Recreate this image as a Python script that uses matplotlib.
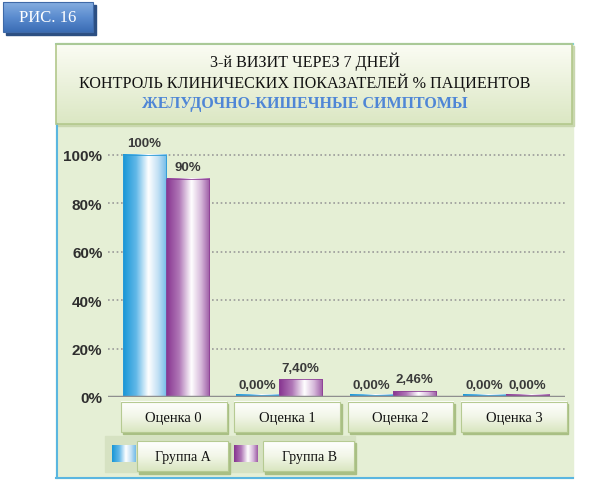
import matplotlib
matplotlib.use('Agg')
import matplotlib.pyplot as plt
import numpy as np
from matplotlib.colors import LinearSegmentedColormap
from matplotlib.patches import Rectangle

# данные
categories = ['Оценка 0', 'Оценка 1', 'Оценка 2', 'Оценка 3']
series = ['Группа А', 'Группа В']
group_a = [100.0, 0.0, 0.0, 0.0]
group_b = [90.0, 7.40, 2.46, 0.0]
yticks = [0, 20, 40, 60, 80, 100]
badge = 'РИС. 16'
title_lines = ['3-й ВИЗИТ ЧЕРЕЗ 7 ДНЕЙ',
               'КОНТРОЛЬ КЛИНИЧЕСКИХ ПОКАЗАТЕЛЕЙ % ПАЦИЕНТОВ']
subtitle = 'ЖЕЛУДОЧНО-КИШЕЧНЫЕ СИМПТОМЫ'

serif = ['Liberation Serif', 'DejaVu Serif']
sans = ['Liberation Sans', 'DejaVu Sans']

blue_cm = LinearSegmentedColormap.from_list('b', [(0, '#1796d6'), (0.3, '#62b8e8'), (0.58, '#ffffff'),
                                                  (0.8, '#c2e0f4'), (1, '#72bbe8')])
purple_cm = LinearSegmentedColormap.from_list('p', [(0, '#86338f'), (0.3, '#b077b7'), (0.58, '#ffffff'),
                                                    (0.8, '#d6b8da'), (1, '#9c5aa4')])
title_cm = LinearSegmentedColormap.from_list('t', ['#fbfcf4', '#dbe7c3'])
box_cm = LinearSegmentedColormap.from_list('c', ['#ffffff', '#f2f6e8', '#d9e6c0'])
badge_cm = LinearSegmentedColormap.from_list('s', ['#86aee0', '#5b8ccf', '#3a6cb4'])


def grad(axis, x0, x1, y0, y1, cmap, horizontal=True, z=2, clip=True):
    g = np.linspace(0, 1, 256)
    img = g[np.newaxis, :] if horizontal else g[:, np.newaxis]
    im = axis.imshow(img, cmap=cmap, extent=[x0, x1, y1, y0] if not horizontal else [x0, x1, y0, y1],
                     aspect='auto', zorder=z, interpolation='bilinear')
    im.set_clip_on(clip)
    return im


fig = plt.figure(figsize=(6, 4.89), dpi=100)
fig.patch.set_facecolor('white')

# фон в пикселях
bg = fig.add_axes([0, 0, 1, 1], zorder=0)
bg.set_xlim(0, 600)
bg.set_ylim(489, 0)
bg.axis('off')

# плашка "РИС. 16"
bg.add_patch(Rectangle((6, 6), 90, 30, color='#2c4f82', zorder=1))
grad(bg, 3, 93, 3, 33, badge_cm, horizontal=False, z=2)
bg.add_patch(Rectangle((3, 3), 90, 30, fill=False, ec='#3f6aa8', lw=0.8, zorder=3))
bg.text(48, 18.5, badge, ha='center', va='center', color='white', fontsize=12, family=serif, zorder=4)

# панель
bg.add_patch(Rectangle((56, 44), 517, 435, color='#e5efd5', zorder=1))
bg.plot([56, 573], [44.5, 44.5], color='#7fd2d2', lw=1.5, zorder=3)
bg.plot([57, 57], [125, 479], color='#5ab6e0', lw=1.5, zorder=3)
bg.plot([56, 573], [479, 479], color='#5ab6e0', lw=1.5, zorder=3)

# блок заголовка
bg.add_patch(Rectangle((58, 47), 516, 80, color='#c9d7ae', zorder=1.5))
grad(bg, 56, 572, 45, 125, title_cm, horizontal=False, z=2)
bg.add_patch(Rectangle((56, 45), 516, 80, fill=False, ec='#b3c88c', lw=1.2, zorder=3))
bg.text(305, 62, title_lines[0], ha='center', va='center', fontsize=11.6, family=serif, color='#111111', zorder=4)
bg.text(305, 83, title_lines[1], ha='center', va='center', fontsize=11.6, family=serif, color='#111111', zorder=4)
bg.text(305, 104, subtitle, ha='center', va='center', fontsize=11.5, family=serif, color='#4f86d6',
        fontweight='bold', zorder=4)

# легенда
bg.add_patch(Rectangle((105, 437), 250, 36, color='#d6e2c2', zorder=1.5))
for i, (name, cm) in enumerate(zip(series, [blue_cm, purple_cm])):
    sx = 112 + i * 122
    grad(bg, sx, sx + 24, 446, 463, cm, horizontal=True, z=2)
    bx = sx + 25 + i * 4
    bg.add_patch(Rectangle((bx + 1.5, 443.5), 91, 31, color='#a9bf84', zorder=2))
    grad(bg, bx, bx + 91, 442, 472, box_cm, horizontal=False, z=3)
    bg.add_patch(Rectangle((bx, 442), 91, 30, fill=False, ec='#b6ca92', lw=0.8, zorder=4))
    bg.text(bx + 46, 457, name, ha='center', va='center', fontsize=10, family=serif, color='#111111', zorder=5)

# диаграмма
ax = fig.add_axes([108 / 600, (489 - 398) / 489, 457 / 600, 252 / 489], zorder=1)
ax.set_facecolor('none')
x = np.arange(len(categories))
w = 0.38
bars_a = ax.bar(x - w / 2, group_a, w, color='none', zorder=3)
bars_b = ax.bar(x + w / 2, group_b, w, color='none', zorder=3)

for bars, cm, edge in [(bars_a, blue_cm, '#2a9ad6'), (bars_b, purple_cm, '#8e4096')]:
    for b in bars:
        h = max(b.get_height(), 0.9)
        grad(ax, b.get_x(), b.get_x() + b.get_width(), 0, h, cm, horizontal=True, z=3)
        ax.add_patch(Rectangle((b.get_x(), 0), b.get_width(), h, fill=False, ec=edge, lw=0.6, zorder=4))


def fmt(v):
    if v > 0 and float(v).is_integer():
        return '{:.0f}%'.format(v)
    return '{:.2f}%'.format(v).replace('.', ',')


for bars in [bars_a, bars_b]:
    for b in bars:
        ax.annotate(fmt(b.get_height()), (b.get_x() + b.get_width() / 2, b.get_height()),
                    xytext=(0, 4), textcoords='offset points', ha='center', va='bottom',
                    fontsize=9.5, fontweight='bold', family=sans, color='#3a3a3a', zorder=6)

ax.set_xlim(-0.51, 3.52)
ax.set_ylim(0, 104)
ax.set_yticks(yticks)
ax.set_yticklabels(['{}%'.format(t) for t in yticks], fontsize=11, fontweight='bold', family=sans,
                   color='#2e2e2e')
ax.tick_params(axis='y', length=0, pad=4)
ax.set_xticks([])
ax.yaxis.grid(True, linestyle=(0, (1, 1.6)), color='#9a9a9a', lw=1.2, zorder=1)
ax.set_axisbelow(True)
for s in ax.spines.values():
    s.set_visible(False)
ax.axhline(0, color='#8f8f8f', lw=2.5, zorder=5)

# подписи категорий
for xi, cat in zip(x, categories):
    x0, x1 = xi - 0.465 + 0.07, xi + 0.465 + 0.07
    ax.add_patch(Rectangle((x0 + 0.015, -15.3), x1 - x0, 12.6, color='#a9bf84', zorder=2, clip_on=False))
    grad(ax, x0, x1, -2.1, -14.6, box_cm, horizontal=False, z=3, clip=False)
    ax.add_patch(Rectangle((x0, -14.6), x1 - x0, 12.5, fill=False, ec='#b6ca92', lw=0.8, zorder=4,
                           clip_on=False))
    ax.text((x0 + x1) / 2, -8.3, cat, ha='center', va='center', fontsize=10.5, family=serif,
            color='#111111', zorder=6, clip_on=False)

ax.set_xlim(-0.51, 3.52)
ax.set_ylim(0, 104)

fig.savefig('out.png', dpi=100)
